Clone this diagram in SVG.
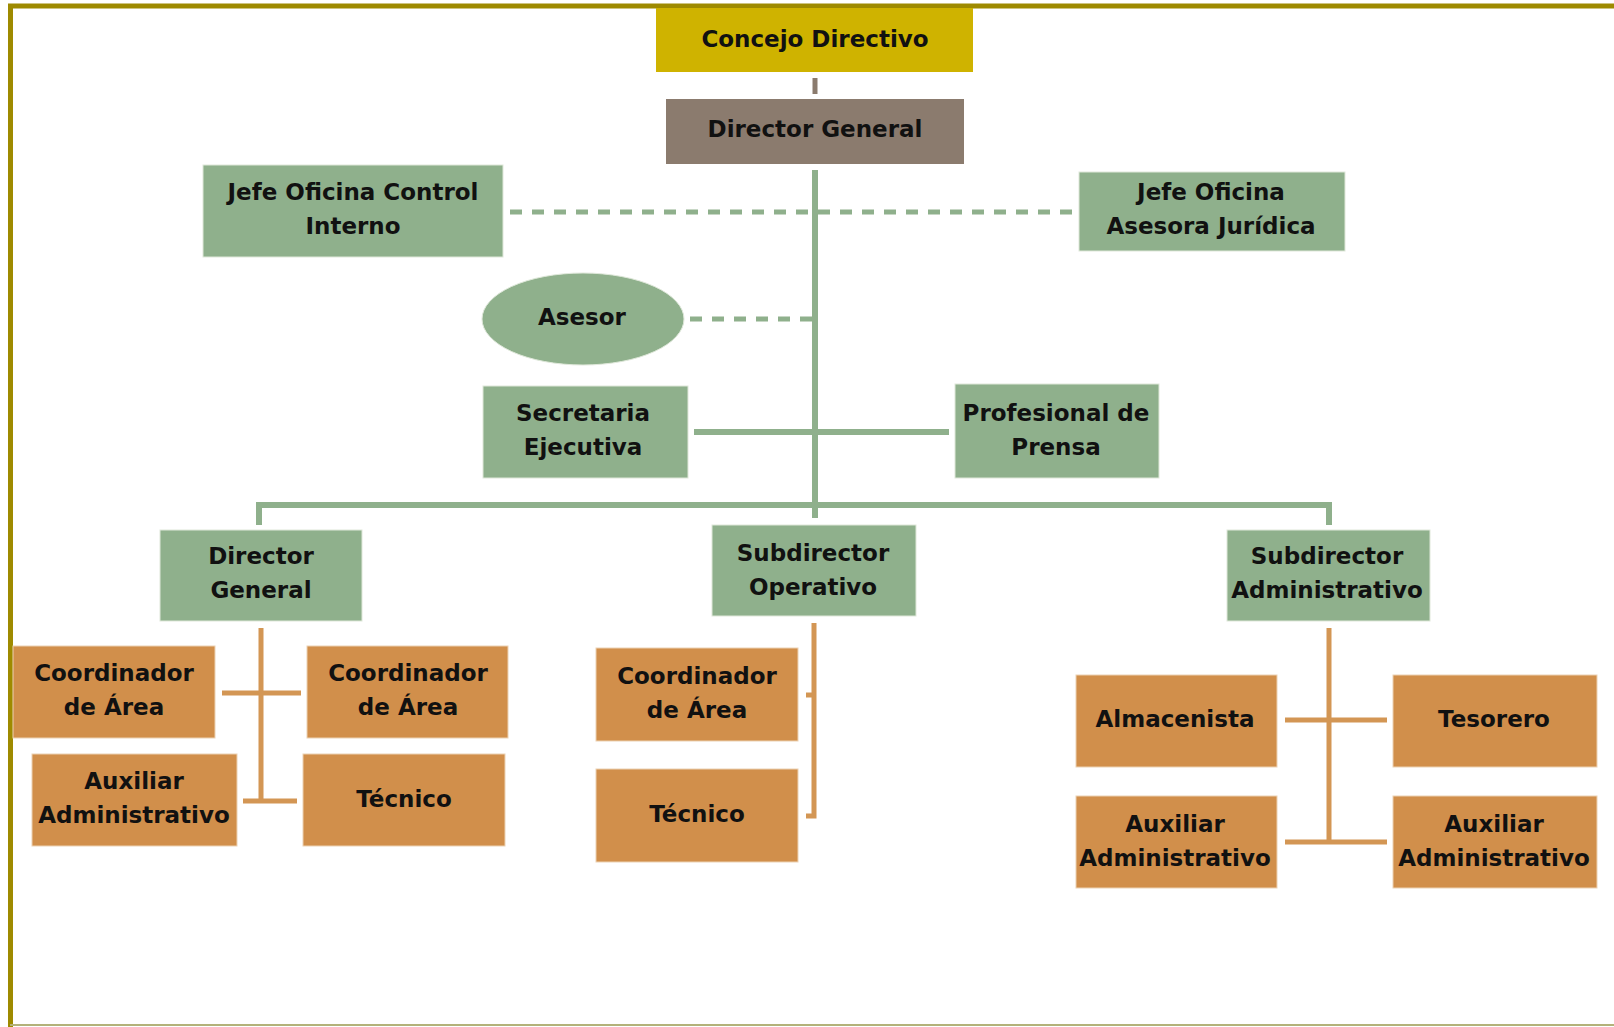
<svg xmlns="http://www.w3.org/2000/svg" width="1614" height="1027" viewBox="0 0 1614 1027">
<style>
.g{fill:#8fb08c;stroke:#dfe8da;stroke-width:1}
.o{fill:#d18f4b;stroke:#ecd2b4;stroke-width:1}
.t{font-family:"DejaVu Sans",sans-serif;font-weight:bold;font-size:23px;fill:#111;text-anchor:middle}
.cg{stroke:#8fb08c;stroke-width:6;fill:none}
.cgd{stroke:#8fb08c;stroke-width:5;fill:none;stroke-dasharray:12 10}
.co{stroke:#d39654;stroke-width:5;fill:none}
</style>
<rect x="0" y="0" width="1614" height="1027" fill="#fff"/>
<g id="frame">
<line x1="8" y1="6" x2="1614" y2="6" stroke="#9e8a00" stroke-width="5"/>
<line x1="10.5" y1="4" x2="10.5" y2="1027" stroke="#9e8a00" stroke-width="5"/>
<line x1="10" y1="1025" x2="1614" y2="1025" stroke="#b3b27a" stroke-width="2"/>
</g>
<g id="connectors">
<line x1="815" y1="78" x2="815" y2="94" stroke="#8b7b6e" stroke-width="5"/>
<line class="cg" x1="815" y1="170" x2="815" y2="518"/>
<line class="cgd" x1="510" y1="212" x2="1074" y2="212"/>
<line class="cgd" x1="690" y1="319" x2="813" y2="319"/>
<line class="cg" x1="694" y1="432" x2="949" y2="432"/>
<polyline class="cg" points="259,525 259,505 1329,505 1329,525"/>
<line class="co" x1="261" y1="628" x2="261" y2="801"/>
<line class="co" x1="222" y1="693" x2="301" y2="693"/>
<line class="co" x1="243" y1="801" x2="297" y2="801"/>
<polyline class="co" points="814,623 814,816 806,816"/>
<line class="co" x1="806" y1="695" x2="814" y2="695"/>
<line class="co" x1="1329" y1="628" x2="1329" y2="842"/>
<line class="co" x1="1285" y1="720" x2="1387" y2="720"/>
<line class="co" x1="1285" y1="842" x2="1387" y2="842"/>
</g>
<g id="concejo"><rect x="656" y="8" width="317" height="64" fill="#cfb300"/><text class="t" x="815" y="47">Concejo Directivo</text></g>
<g id="director"><rect x="666" y="99" width="298" height="65" fill="#8b7b6e"/><text class="t" x="815" y="137">Director General</text></g>
<g id="control"><rect class="g" x="203" y="165" width="300" height="92"/><text class="t" x="353" y="200">Jefe Oficina Control</text><text class="t" x="353" y="234">Interno</text></g>
<g id="juridica"><rect class="g" x="1079" y="172" width="266" height="79"/><text class="t" x="1211" y="200">Jefe Oficina</text><text class="t" x="1211" y="234">Asesora Jurídica</text></g>
<g id="asesor"><ellipse class="g" cx="583" cy="319" rx="101" ry="46"/><text class="t" x="582" y="325">Asesor</text></g>
<g id="secretaria"><rect class="g" x="483" y="386" width="205" height="92"/><text class="t" x="583" y="421">Secretaria</text><text class="t" x="583" y="455">Ejecutiva</text></g>
<g id="prensa"><rect class="g" x="955" y="384" width="204" height="94"/><text class="t" x="1056" y="421">Profesional de</text><text class="t" x="1056" y="455">Prensa</text></g>
<g id="director2"><rect class="g" x="160" y="530" width="202" height="91"/><text class="t" x="261" y="564">Director</text><text class="t" x="261" y="598">General</text></g>
<g id="suboperativo"><rect class="g" x="712" y="525" width="204" height="91"/><text class="t" x="813" y="561">Subdirector</text><text class="t" x="813" y="595">Operativo</text></g>
<g id="subadmin"><rect class="g" x="1227" y="530" width="203" height="91"/><text class="t" x="1327" y="564">Subdirector</text><text class="t" x="1327" y="598">Administrativo</text></g>
<g id="coord1"><rect class="o" x="13" y="646" width="202" height="92"/><text class="t" x="114" y="681">Coordinador</text><text class="t" x="114" y="715">de Área</text></g>
<g id="coord2"><rect class="o" x="307" y="646" width="201" height="92"/><text class="t" x="408" y="681">Coordinador</text><text class="t" x="408" y="715">de Área</text></g>
<g id="aux1"><rect class="o" x="32" y="754" width="205" height="92"/><text class="t" x="134" y="789">Auxiliar</text><text class="t" x="134" y="823">Administrativo</text></g>
<g id="tecnico1"><rect class="o" x="303" y="754" width="202" height="92"/><text class="t" x="404" y="807">Técnico</text></g>
<g id="coord3"><rect class="o" x="596" y="648" width="202" height="93"/><text class="t" x="697" y="684">Coordinador</text><text class="t" x="697" y="718">de Área</text></g>
<g id="tecnico2"><rect class="o" x="596" y="769" width="202" height="93"/><text class="t" x="697" y="822">Técnico</text></g>
<g id="almacenista"><rect class="o" x="1076" y="675" width="201" height="92"/><text class="t" x="1175" y="727">Almacenista</text></g>
<g id="tesorero"><rect class="o" x="1393" y="675" width="204" height="92"/><text class="t" x="1494" y="727">Tesorero</text></g>
<g id="aux2"><rect class="o" x="1076" y="796" width="201" height="92"/><text class="t" x="1175" y="832">Auxiliar</text><text class="t" x="1175" y="866">Administrativo</text></g>
<g id="aux3"><rect class="o" x="1393" y="796" width="204" height="92"/><text class="t" x="1494" y="832">Auxiliar</text><text class="t" x="1494" y="866">Administrativo</text></g>
</svg>
